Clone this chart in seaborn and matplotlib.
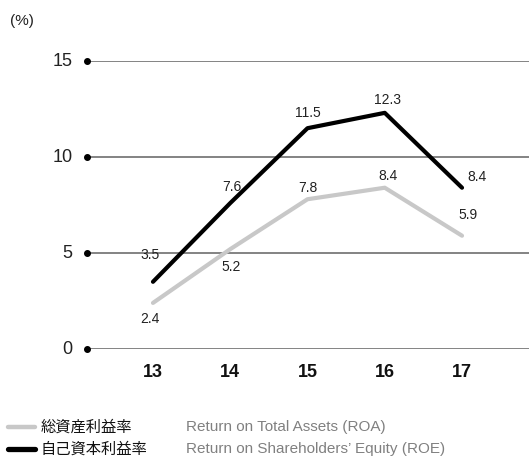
import pandas as pd
import seaborn as sns
import matplotlib.pyplot as plt

years = ["13", "14", "15", "16", "17"]
roa = [2.4, 5.2, 7.8, 8.4, 5.9]
roe = [3.5, 7.6, 11.5, 12.3, 8.4]
y_ticks = [0, 5, 10, 15]
legend_jp = ["総資産利益率", "自己資本利益率"]
legend_en = ["Return on Total Assets (ROA)", "Return on Shareholders’ Equity (ROE)"]

sns.set_style("white")
plt.rcParams["font.family"] = ["Liberation Sans", "Noto Sans CJK JP", "DejaVu Sans"]

xs = list(range(13, 18))
df = pd.DataFrame({"year": xs * 2, "value": roa + roe,
                   "series": ["ROA"] * 5 + ["ROE"] * 5})

fig = plt.figure(figsize=(5.29, 4.59), dpi=100)
ax = fig.add_axes([87 / 529, 110 / 459, 442 / 529, 288 / 459])

sns.lineplot(data=df, x="year", y="value", hue="series",
             palette={"ROA": "#c8c8c8", "ROE": "black"},
             linewidth=3, legend=False, ax=ax, zorder=3)

x0 = 12.146
ax.set_xlim(x0, 17.867)
ax.set_ylim(0, 15)
for t in y_ticks:
    ax.axhline(t, color="#6e6e6e", lw=1.2, zorder=1)
    ax.plot(x0, t, "o", color="black", ms=4, clip_on=False, zorder=4)
    ax.text(x0 - 0.19, t, str(t), ha="right", va="center", fontsize=13,
            color="#222222")
for sp in ax.spines.values():
    sp.set_visible(False)
ax.set_xticks([])
ax.set_yticks([])
ax.set_xlabel("")
ax.set_ylabel("")

for x, lab in zip(xs, years):
    ax.text(x, -1.2, lab, ha="center", va="center", fontsize=13,
            fontweight="bold", color="#111111")

# data labels: (dx, dy) in data units
roa_off = [(-0.04, -0.85), (0.01, -0.95), (0, 0.6), (0.04, 0.6), (0.08, 1.1)]
roe_off = [(-0.04, 1.4), (0.02, 0.85), (0.01, 0.8), (0.04, 0.65), (0.2, 0.55)]
for x, v, (dx, dy) in zip(xs, roa, roa_off):
    ax.text(x + dx, v + dy, f"{v:.1f}", ha="center", va="center", fontsize=10,
            color="#222222")
for x, v, (dx, dy) in zip(xs, roe, roe_off):
    ax.text(x + dx, v + dy, f"{v:.1f}", ha="center", va="center", fontsize=10,
            color="#222222")

fig.text(10 / 529, 1 - 21 / 459, "(%)", fontsize=11, va="center", color="#222222")

colors = ["#c8c8c8", "black"]
widths = [3.2, 3.8]
for i, (jp, en, c) in enumerate(zip(legend_jp, legend_en, colors)):
    yy = 1 - (427 + 22 * i) / 459
    fig.add_artist(plt.Line2D([8 / 529, 35 / 529], [yy, yy], color=c, lw=widths[i]))
    fig.text(41 / 529, yy, jp, fontsize=11, va="center", color="#111111",
             family=["Noto Sans CJK JP", "DejaVu Sans"])
    fig.text(186 / 529, yy, en, fontsize=11, va="center", color="#808080")

fig.savefig("out.png", dpi=100)
